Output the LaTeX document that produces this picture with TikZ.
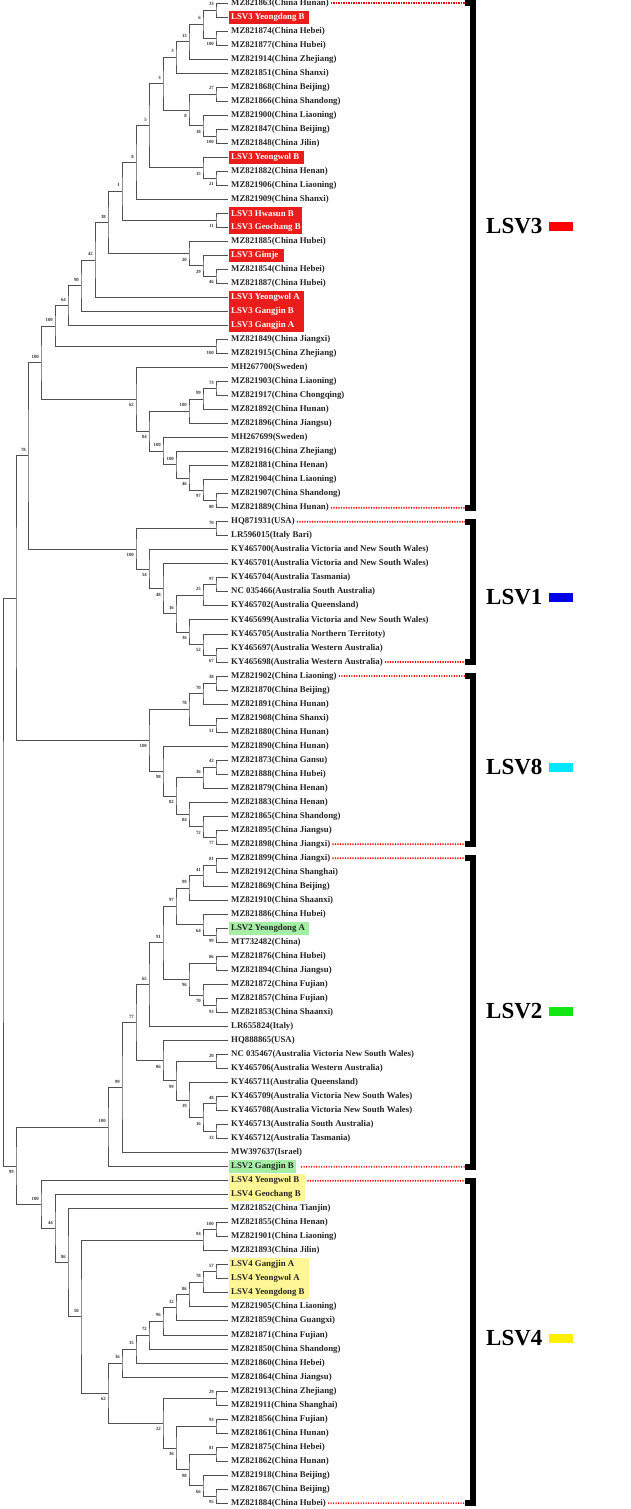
\documentclass[tikz,border=0pt]{standalone}
\usepackage{fontspec}
\setmainfont{Liberation Serif}
\usetikzlibrary{calc}
\definecolor{br}{RGB}{80,80,80}
\definecolor{hlred}{RGB}{235,28,28}
\definecolor{hlgreen}{RGB}{165,238,165}
\definecolor{hlyellow}{RGB}{255,246,150}
\definecolor{gred}{RGB}{255,0,0}
\definecolor{gblue}{RGB}{0,0,230}
\definecolor{gcyan}{RGB}{0,230,255}
\definecolor{ggreen}{RGB}{20,230,20}
\definecolor{gyellow}{RGB}{255,240,0}
\tikzset{
 branch/.style={draw=br, line width=0.8pt},
 lbl/.style={anchor=west, inner sep=0pt, font=\fontsize{8.8}{9}\selectfont\bfseries, text=black!85},
 wlbl/.style={lbl, text=white},
 bst/.style={anchor=east, inner sep=0pt, font=\fontsize{4.8}{5}\selectfont\bfseries, text=black!80},
 bup/.style={yshift=6pt}, bdn/.style={yshift=-6pt},
 reddot/.style={draw=red, line width=1.7pt, dash pattern=on 1.2pt off 1.3pt},
 bracket/.style={draw=black, line width=6pt},
 grp/.style={anchor=west, inner sep=0pt, font=\fontsize{23}{24}\selectfont\bfseries},
}
\newcommand\lf[4][lbl]{\pgfmathsetmacro\ly{3+(#3-1)*14.02}\coordinate (#2) at (228,\ly); \node[#1] (#2t) at (231,\ly) {#4};}
\newcommand\jn[6]{\path let \p1=($(#3)!0.5!(#4)$) in coordinate (#1) at (#2pt,\y1); \draw[branch] (#3) -| (#1) |- (#4); \node[bst,#6] (#1b) at ([xshift=-2pt]#1) {#5};}
\newcommand\hl[4]{\pgfmathsetmacro\ya{3+(#2-1)*14.02-6.5}\pgfmathsetmacro\yb{3+(#3-1)*14.02+6.5}\fill[#1] (229,\ya) rectangle (#4,\yb);}
\begin{document}
\begin{tikzpicture}[x=1pt,y=-1pt]
\useasboundingbox (0,0) rectangle (630,1509);
\fill[white] (0,0) rectangle (630,1509);
% highlight boxes
\hl{hlred}{2}{2}{309}
\hl{hlred}{12}{12}{304}
\hl{hlred}{16}{17}{302}
\hl{hlred}{19}{19}{284}
\hl{hlred}{22}{24}{304}
\hl{hlgreen}{67}{67}{309}
\hl{hlgreen}{84}{84}{296}
\hl{hlyellow}{85}{86}{305}
\hl{hlyellow}{91}{93}{309}
% leaves
\lf{L1}{1}{MZ821863(China Hunan)}
\lf[wlbl]{L2}{2}{LSV3 Yeongdong B}
\lf{L3}{3}{MZ821874(China Hebei)}
\lf{L4}{4}{MZ821877(China Hubei)}
\lf{L5}{5}{MZ821914(China Zhejiang)}
\lf{L6}{6}{MZ821851(China Shanxi)}
\lf{L7}{7}{MZ821868(China Beijing)}
\lf{L8}{8}{MZ821866(China Shandong)}
\lf{L9}{9}{MZ821900(China Liaoning)}
\lf{L10}{10}{MZ821847(China Beijing)}
\lf{L11}{11}{MZ821848(China Jilin)}
\lf[wlbl]{L12}{12}{LSV3 Yeongwol B}
\lf{L13}{13}{MZ821882(China Henan)}
\lf{L14}{14}{MZ821906(China Liaoning)}
\lf{L15}{15}{MZ821909(China Shanxi)}
\lf[wlbl]{L16}{16}{LSV3 Hwasun B}
\lf[wlbl]{L17}{17}{LSV3 Geochang B}
\lf{L18}{18}{MZ821885(China Hubei)}
\lf[wlbl]{L19}{19}{LSV3 Gimje}
\lf{L20}{20}{MZ821854(China Hebei)}
\lf{L21}{21}{MZ821887(China Hubei)}
\lf[wlbl]{L22}{22}{LSV3 Yeongwol A}
\lf[wlbl]{L23}{23}{LSV3 Gangjin B}
\lf[wlbl]{L24}{24}{LSV3 Gangjin A}
\lf{L25}{25}{MZ821849(China Jiangxi)}
\lf{L26}{26}{MZ821915(China Zhejiang)}
\lf{L27}{27}{MH267700(Sweden)}
\lf{L28}{28}{MZ821903(China Liaoning)}
\lf{L29}{29}{MZ821917(China Chongqing)}
\lf{L30}{30}{MZ821892(China Hunan)}
\lf{L31}{31}{MZ821896(China Jiangsu)}
\lf{L32}{32}{MH267699(Sweden)}
\lf{L33}{33}{MZ821916(China Zhejiang)}
\lf{L34}{34}{MZ821881(China Henan)}
\lf{L35}{35}{MZ821904(China Liaoning)}
\lf{L36}{36}{MZ821907(China Shandong)}
\lf{L37}{37}{MZ821889(China Hunan)}
\lf{L38}{38}{HQ871931(USA)}
\lf{L39}{39}{LR596015(Italy Bari)}
\lf{L40}{40}{KY465700(Australia Victoria and New South Wales)}
\lf{L41}{41}{KY465701(Australia Victoria and New South Wales)}
\lf{L42}{42}{KY465704(Australia Tasmania)}
\lf{L43}{43}{NC 035466(Australia South Australia)}
\lf{L44}{44}{KY465702(Australia Queensland)}
\lf{L45}{45}{KY465699(Australia Victoria and New South Wales)}
\lf{L46}{46}{KY465705(Australia Northern Territoty)}
\lf{L47}{47}{KY465697(Australia Western Australia)}
\lf{L48}{48}{KY465698(Australia Western Australia)}
\lf{L49}{49}{MZ821902(China Liaoning)}
\lf{L50}{50}{MZ821870(China Beijing)}
\lf{L51}{51}{MZ821891(China Hunan)}
\lf{L52}{52}{MZ821908(China Shanxi)}
\lf{L53}{53}{MZ821880(China Hunan)}
\lf{L54}{54}{MZ821890(China Hunan)}
\lf{L55}{55}{MZ821873(China Gansu)}
\lf{L56}{56}{MZ821888(China Hubei)}
\lf{L57}{57}{MZ821879(China Henan)}
\lf{L58}{58}{MZ821883(China Henan)}
\lf{L59}{59}{MZ821865(China Shandong)}
\lf{L60}{60}{MZ821895(China Jiangsu)}
\lf{L61}{61}{MZ821898(China Jiangxi)}
\lf{L62}{62}{MZ821899(China Jiangxi)}
\lf{L63}{63}{MZ821912(China Shanghai)}
\lf{L64}{64}{MZ821869(China Beijing)}
\lf{L65}{65}{MZ821910(China Shaanxi)}
\lf{L66}{66}{MZ821886(China Hubei)}
\lf{L67}{67}{LSV2 Yeongdong A}
\lf{L68}{68}{MT732482(China)}
\lf{L69}{69}{MZ821876(China Hubei)}
\lf{L70}{70}{MZ821894(China Jiangsu)}
\lf{L71}{71}{MZ821872(China Fujian)}
\lf{L72}{72}{MZ821857(China Fujian)}
\lf{L73}{73}{MZ821853(China Shaanxi)}
\lf{L74}{74}{LR655824(Italy)}
\lf{L75}{75}{HQ888865(USA)}
\lf{L76}{76}{NC 035467(Australia Victoria New South Wales)}
\lf{L77}{77}{KY465706(Australia Western Australia)}
\lf{L78}{78}{KY465711(Australia Queensland)}
\lf{L79}{79}{KY465709(Australia Victoria New South Wales)}
\lf{L80}{80}{KY465708(Australia Victoria New South Wales)}
\lf{L81}{81}{KY465713(Australia South Australia)}
\lf{L82}{82}{KY465712(Australia Tasmania)}
\lf{L83}{83}{MW397637(Israel)}
\lf{L84}{84}{LSV2 Gangjin B}
\lf{L85}{85}{LSV4 Yeongwol B}
\lf{L86}{86}{LSV4 Geochang B}
\lf{L87}{87}{MZ821852(China Tianjin)}
\lf{L88}{88}{MZ821855(China Henan)}
\lf{L89}{89}{MZ821901(China Liaoning)}
\lf{L90}{90}{MZ821893(China Jilin)}
\lf{L91}{91}{LSV4 Gangjin A}
\lf{L92}{92}{LSV4 Yeongwol A}
\lf{L93}{93}{LSV4 Yeongdong B}
\lf{L94}{94}{MZ821905(China Liaoning)}
\lf{L95}{95}{MZ821859(China Guangxi)}
\lf{L96}{96}{MZ821871(China Fujian)}
\lf{L97}{97}{MZ821850(China Shandong)}
\lf{L98}{98}{MZ821860(China Hebei)}
\lf{L99}{99}{MZ821864(China Jiangsu)}
\lf{L100}{100}{MZ821913(China Zhejiang)}
\lf{L101}{101}{MZ821911(China Shanghai)}
\lf{L102}{102}{MZ821856(China Fujian)}
\lf{L103}{103}{MZ821861(China Hunan)}
\lf{L104}{104}{MZ821875(China Hebei)}
\lf{L105}{105}{MZ821862(China Hunan)}
\lf{L106}{106}{MZ821918(China Beijing)}
\lf{L107}{107}{MZ821867(China Beijing)}
\lf{L108}{108}{MZ821884(China Hubei)}
% LSV3
\jn{a33}{216}{L1}{L2}{33}{bup}
\jn{a100}{216}{L3}{L4}{100}{bdn}
\jn{a6}{203}{a33}{a100}{6}{bup}
\jn{a13}{189}{a6}{L5}{13}{bup}
\jn{a3}{176}{a13}{L6}{3}{bup}
\jn{b27}{216}{L7}{L8}{27}{bup}
\jn{b100}{216}{L10}{L11}{100}{bdn}
\jn{b18}{203}{L9}{b100}{18}{bdn}
\jn{b8}{189}{b27}{b18}{8}{bdn}
\jn{c3}{163}{a3}{b8}{3}{bup}
\jn{d21}{216}{L13}{L14}{21}{bdn}
\jn{d15}{203}{L12}{d21}{15}{bdn}
\jn{c5}{149}{c3}{d15}{5}{bup}
\jn{c8}{136}{c5}{L15}{8}{bup}
\jn{e11}{216}{L16}{L17}{11}{bdn}
\jn{c1}{122}{c8}{e11}{1}{bup}
\jn{f46}{216}{L20}{L21}{46}{bdn}
\jn{f29}{203}{L19}{f46}{29}{bdn}
\jn{f20}{189}{L18}{f29}{20}{bdn}
\jn{c38}{108}{c1}{f20}{38}{bup}
\jn{c42}{95}{c38}{L22}{42}{bup}
\jn{c90}{81}{c42}{L23}{90}{bup}
\jn{c64}{68}{c90}{L24}{64}{bup}
\jn{g100}{216}{L25}{L26}{100}{bdn}
\jn{h73}{216}{L28}{L29}{73}{bup}
\jn{h99}{203}{h73}{L30}{99}{bup}
\jn{h100}{189}{h99}{L31}{100}{bup}
\jn{i80}{216}{L36}{L37}{80}{bdn}
\jn{i97}{203}{L35}{i80}{97}{bdn}
\jn{i46}{189}{L34}{i97}{46}{bdn}
\jn{i100c}{176}{L33}{i46}{100}{bup}
\jn{i100b}{163}{L32}{i100c}{100}{bup}
\jn{h84}{149}{h100}{i100b}{84}{bdn}
\jn{h62}{136}{L27}{h84}{62}{bdn}
\jn{c100a}{55}{c64}{g100}{100}{bup}
\jn{c100b}{41}{c100a}{h62}{100}{bup}
% LSV1
\jn{k70}{216}{L38}{L39}{70}{bup}
\jn{k97}{216}{L42}{L43}{97}{bup}
\jn{k25}{203}{k97}{L44}{25}{bup}
\jn{k67}{216}{L47}{L48}{67}{bdn}
\jn{k52}{203}{L46}{k67}{52}{bdn}
\jn{k36}{189}{L45}{k52}{36}{bdn}
\jn{k16}{176}{k25}{k36}{16}{bup}
\jn{k48}{163}{L41}{k16}{48}{bdn}
\jn{k54}{149}{L40}{k48}{54}{bdn}
\jn{k100}{136}{k70}{k54}{100}{bdn}
% LSV8
\jn{m38}{216}{L49}{L50}{38}{bup}
\jn{m70}{203}{m38}{L51}{70}{bup}
\jn{m51}{216}{L52}{L53}{51}{bdn}
\jn{m78}{189}{m70}{m51}{78}{bup}
\jn{m43}{216}{L55}{L56}{43}{bup}
\jn{m36}{203}{m43}{L57}{36}{bup}
\jn{m77}{216}{L60}{L61}{77}{bdn}
\jn{m72}{203}{L59}{m77}{72}{bdn}
\jn{m84}{189}{L58}{m72}{84}{bdn}
\jn{m82}{176}{m36}{m84}{82}{bdn}
\jn{m98}{163}{L54}{m82}{98}{bdn}
\jn{m100}{149}{m78}{m98}{100}{bdn}
% LSV2
\jn{p81}{216}{L62}{L63}{81}{bup}
\jn{p41}{203}{p81}{L64}{41}{bup}
\jn{p99}{189}{p41}{L65}{99}{bup}
\jn{p99b}{216}{L67}{L68}{99}{bdn}
\jn{p64}{203}{L66}{p99b}{64}{bdn}
\jn{p97}{176}{p99}{p64}{97}{bup}
\jn{p86}{216}{L69}{L70}{86}{bup}
\jn{p93}{216}{L72}{L73}{93}{bdn}
\jn{p70}{203}{L71}{p93}{70}{bdn}
\jn{p96}{189}{p86}{p70}{96}{bdn}
\jn{p91}{163}{p97}{p96}{91}{bup}
\jn{p65}{149}{p91}{L74}{65}{bup}
\jn{q20}{216}{L76}{L77}{20}{bup}
\jn{q48}{216}{L79}{L80}{48}{bup}
\jn{q33}{216}{L81}{L82}{33}{bdn}
\jn{q16}{203}{q48}{q33}{16}{bdn}
\jn{q19}{189}{L78}{q16}{19}{bdn}
\jn{q99}{176}{q20}{q19}{99}{bdn}
\jn{q86}{163}{L75}{q99}{86}{bdn}
\jn{p77}{136}{p65}{q86}{77}{bup}
\jn{p99c}{122}{p77}{L83}{99}{bup}
\jn{p100}{108}{p99c}{L84}{100}{bup}
% LSV4
\jn{r100}{216}{L88}{L89}{100}{bup}
\jn{r94}{203}{r100}{L90}{94}{bup}
\jn{s57}{216}{L91}{L92}{57}{bup}
\jn{s78}{203}{s57}{L93}{78}{bup}
\jn{s86}{189}{s78}{L94}{86}{bup}
\jn{s32}{176}{s86}{L95}{32}{bup}
\jn{s96}{163}{s32}{L96}{96}{bup}
\jn{s72}{149}{s96}{L97}{72}{bup}
\jn{s15}{136}{s72}{L98}{15}{bup}
\jn{s16}{122}{s15}{L99}{16}{bup}
\jn{t29}{216}{L100}{L101}{29}{bup}
\jn{t93}{216}{L102}{L103}{93}{bup}
\jn{t81}{216}{L104}{L105}{81}{bup}
\jn{t95}{216}{L107}{L108}{95}{bdn}
\jn{t66}{203}{L106}{t95}{66}{bdn}
\jn{t98}{189}{t81}{t66}{98}{bdn}
\jn{t36}{176}{t93}{t98}{36}{bdn}
\jn{t22}{163}{t29}{t36}{22}{bdn}
\jn{s62}{108}{s16}{t22}{62}{bdn}
\jn{u50}{81}{r94}{s62}{50}{bup}
\jn{u86}{68}{L87}{u50}{86}{bup}
\jn{u44}{55}{L86}{u86}{44}{bup}
\jn{u100}{41}{L85}{u44}{100}{bup}
% deep nodes
\jn{v78}{28}{c100b}{k100}{78}{bup}
\jn{vtop}{16}{v78}{m100}{}{bup}
\jn{w99}{16}{p100}{u100}{99}{bdn}
\jn{root}{3}{vtop}{w99}{}{bup}
% brackets
\coordinate (B3a) at (465,3); \coordinate (B3b) at (465,507.7);
\coordinate (B1a) at (465,521.8); \coordinate (B1b) at (465,661.9);
\coordinate (B8a) at (465,676.0); \coordinate (B8b) at (465,844.2);
\coordinate (B2a) at (465,858.2); \coordinate (B2b) at (465,1166.7);
\coordinate (B4a) at (465,1180.7); \coordinate (B4b) at (465,1503.1);
\foreach \a/\b in {B3a/B3b,B1a/B1b,B8a/B8b,B2a/B2b,B4a/B4b}
  \draw[bracket] (\a) -- ++(8,0) |- (\b);
\draw[reddot] ([xshift=2pt]L1t.east) -- (B3a);
\draw[reddot] ([xshift=2pt]L37t.east) -- (B3b);
\draw[reddot] ([xshift=2pt]L38t.east) -- (B1a);
\draw[reddot] ([xshift=2pt]L48t.east) -- (B1b);
\draw[reddot] ([xshift=2pt]L49t.east) -- (B8a);
\draw[reddot] ([xshift=2pt]L61t.east) -- (B8b);
\draw[reddot] ([xshift=2pt]L62t.east) -- (B2a);
\draw[reddot] ([xshift=7pt]L84t.east) -- (B2b);
\draw[reddot] ([xshift=8pt]L85t.east) -- (B4a);
\draw[reddot] ([xshift=2pt]L108t.east) -- (B4b);
% group labels
\node[grp] (G3) at (486,226) {LSV3}; \fill[gred] (549,221.5) rectangle (573,230.5);
\node[grp] (G1) at (486,597) {LSV1}; \fill[gblue] (549,592.5) rectangle (573,601.5);
\node[grp] (G8) at (486,767) {LSV8}; \fill[gcyan] (549,762.5) rectangle (573,771.5);
\node[grp] (G2) at (486,1011) {LSV2}; \fill[ggreen] (549,1006.5) rectangle (573,1015.5);
\node[grp] (G4) at (486,1338) {LSV4}; \fill[gyellow] (549,1333.5) rectangle (573,1342.5);
\end{tikzpicture}
\end{document}
